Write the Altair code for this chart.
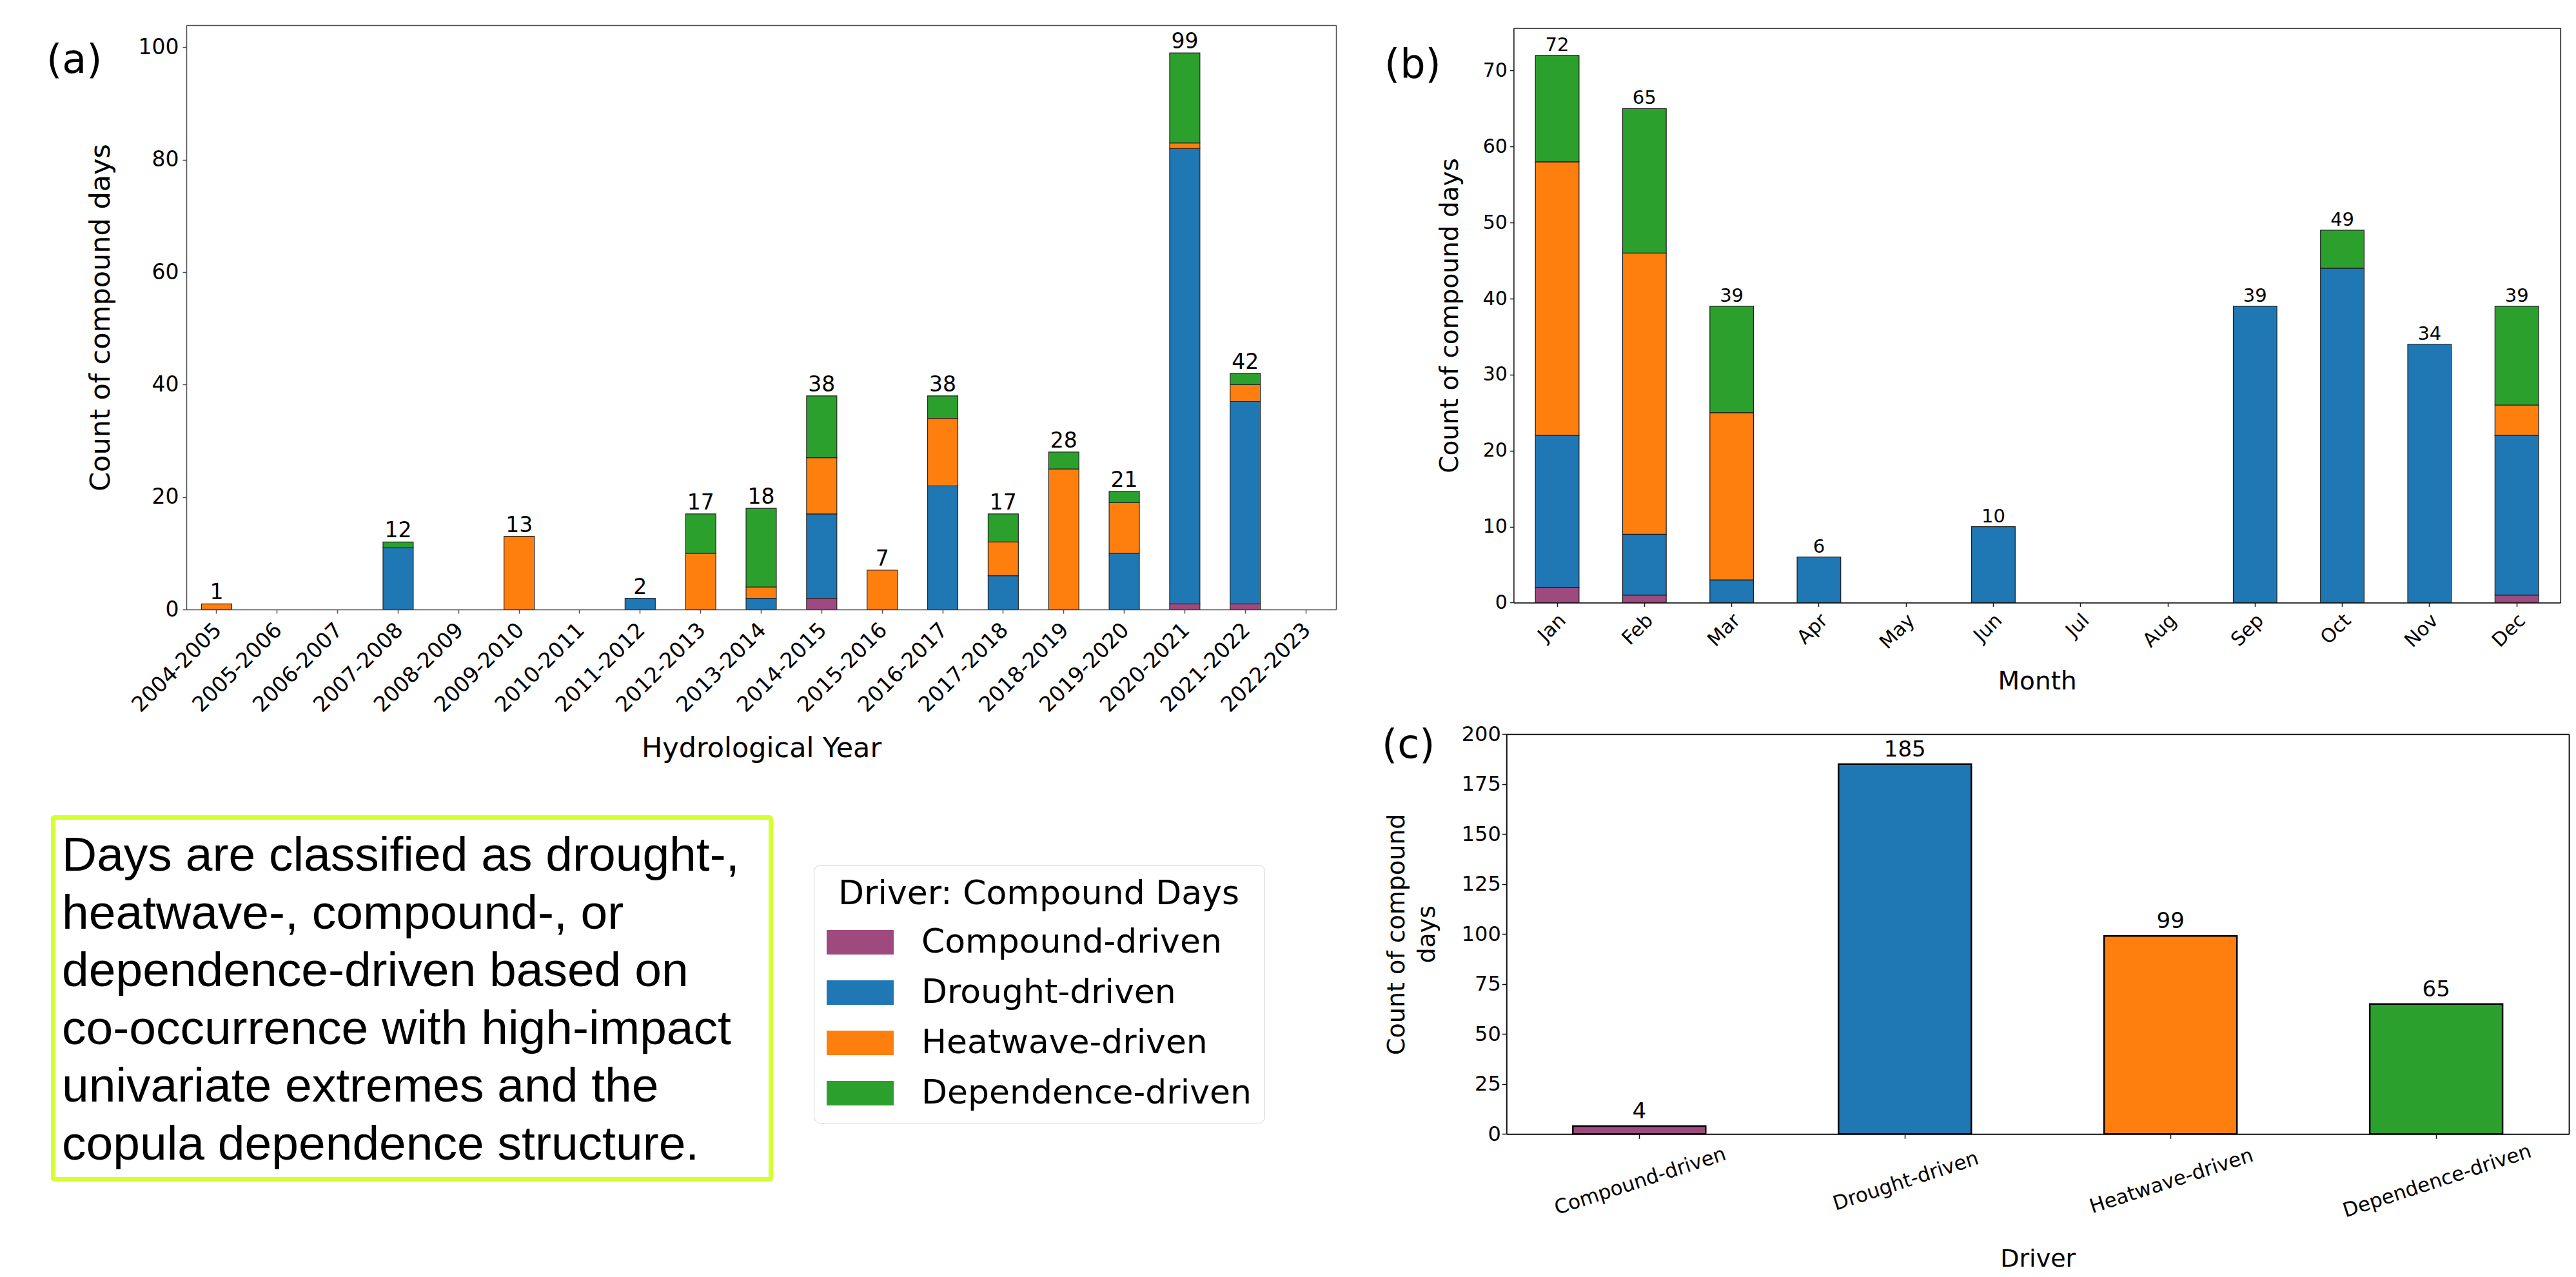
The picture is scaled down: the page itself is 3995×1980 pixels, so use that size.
import altair as alt
import pandas as pd

# ---------------- data ----------------
drivers = ["Compound-driven", "Drought-driven", "Heatwave-driven", "Dependence-driven"]
driver_colors = ["#9e4a7e", "#1f77b4", "#ff7f0e", "#2ca02c"]

years = ["2004-2005", "2005-2006", "2006-2007", "2007-2008", "2008-2009", "2009-2010",
         "2010-2011", "2011-2012", "2012-2013", "2013-2014", "2014-2015", "2015-2016",
         "2016-2017", "2017-2018", "2018-2019", "2019-2020", "2020-2021", "2021-2022",
         "2022-2023"]
year_compound = [0, 0, 0, 0, 0, 0, 0, 0, 0, 0, 2, 0, 0, 0, 0, 0, 1, 1, 0]
year_drought = [0, 0, 0, 11, 0, 0, 0, 2, 0, 2, 15, 0, 22, 6, 0, 10, 81, 36, 0]
year_heatwave = [1, 0, 0, 0, 0, 13, 0, 0, 10, 2, 10, 7, 12, 6, 25, 9, 1, 3, 0]
year_dependence = [0, 0, 0, 1, 0, 0, 0, 0, 7, 14, 11, 0, 4, 5, 3, 2, 16, 2, 0]

months = ["Jan", "Feb", "Mar", "Apr", "May", "Jun", "Jul", "Aug", "Sep", "Oct", "Nov", "Dec"]
month_compound = [2, 1, 0, 0, 0, 0, 0, 0, 0, 0, 0, 1]
month_drought = [20, 8, 3, 6, 0, 10, 0, 0, 39, 44, 34, 21]
month_heatwave = [36, 37, 22, 0, 0, 0, 0, 0, 0, 0, 0, 4]
month_dependence = [14, 19, 14, 0, 0, 0, 0, 0, 0, 5, 0, 13]

driver_totals = [4, 185, 99, 65]

year_ticks = [0, 20, 40, 60, 80, 100]
month_ticks = [0, 10, 20, 30, 40, 50, 60, 70]
driver_ticks = [0, 25, 50, 75, 100, 125, 150, 175, 200]

note_lines = [
    "Days are classified as drought-,",
    "heatwave-, compound-, or",
    "dependence-driven based on",
    "co-occurrence with high-impact",
    "univariate extremes and the",
    "copula dependence structure.",
]
legend_title = "Driver: Compound Days"
panel_labels = ["(a)", "(b)", "(c)"]

# ---------------- helpers ----------------
W, H = 3979, 1964
FONT = "DejaVu Sans"


def stacked(cats, series, key):
    rows = []
    for ci, c in enumerate(cats):
        for di, d in enumerate(drivers):
            v = series[di][ci]
            if v > 0:
                rows.append({key: c, "driver": d, "count": v, "rank": di})
    return pd.DataFrame(rows)


def totals(cats, series, key):
    rows = []
    for ci, c in enumerate(cats):
        t = sum(s[ci] for s in series)
        if t > 0:
            rows.append({key: c, "total": t})
    return pd.DataFrame(rows)


color_scale = alt.Scale(domain=drivers, range=driver_colors)

legend = alt.Legend(
    orient="none", legendX=1254, legendY=1333,
    title=legend_title, titleFont=FONT, titleFontSize=52, titleFontWeight="normal",
    titleColor="black", titleAnchor="middle", titlePadding=22, titleLimit=3000,
    labelFont=FONT, labelFontSize=52, labelColor="black", labelLimit=3000,
    labelOffset=95, symbolType="M-1,-0.73H3V0.73H-1Z", symbolSize=2704,
    symbolStrokeWidth=0, symbolOpacity=1, rowPadding=26, padding=20,
    strokeColor="#d4d4d4", cornerRadius=10, fillColor="white",
)


def frame_axes(style, top, right):
    xa = alt.Axis(orient="top", offset=-top, labels=False, ticks=False, title=None, **style)
    ya = alt.Axis(orient="right", offset=right - W, labels=False, ticks=False, title=None, **style)
    return xa, ya


# ---------------- panel (a) ----------------
a_x = [281, 2064]
a_y = [937, 31]
sty_a = dict(domainColor="#505050", tickColor="#505050", domainWidth=1.5, tickWidth=1.5, zindex=1)
a_xs = alt.Scale(domain=years, range=a_x, paddingInner=0.5, paddingOuter=0.25)
a_ys = alt.Scale(domain=[0, 103.95], range=a_y, nice=False)
series_a = [year_compound, year_drought, year_heatwave, year_dependence]

a_bars = alt.Chart(stacked(years, series_a, "year")).mark_bar(
    stroke="#262626", strokeWidth=1.2
).encode(
    x=alt.X("year:N", sort=years, scale=a_xs, axis=alt.Axis(
        orient="bottom", offset=a_y[0] - H, title="Hydrological Year",
        labelAngle=315, labelAlign="right", labelBaseline="top", labelFontSize=33,
        labelPadding=9, labelOffset=-9, labelLimit=1000, labelOverlap=False, tickSize=6,
        titleFontSize=43, titleY=228, titleBaseline="alphabetic", **sty_a)),
    y=alt.Y("count:Q", stack="zero", scale=a_ys, axis=alt.Axis(
        orient="left", offset=-a_x[0], values=year_ticks, labelFontSize=33,
        labelPadding=6, tickSize=6, title="Count of compound days", titleFontSize=43,
        titleX=-111, titleBaseline="bottom", **sty_a)),
    color=alt.Color("driver:N", scale=color_scale, legend=legend),
    order=alt.Order("rank:Q", sort="ascending"),
)
fx, fy = frame_axes(sty_a, a_y[1], a_x[1])
a_text = alt.Chart(totals(years, series_a, "year")).mark_text(
    font=FONT, fontSize=33, baseline="alphabetic", dy=-7, color="black"
).encode(
    x=alt.X("year:N", sort=years, scale=a_xs, axis=fx),
    y=alt.Y("total:Q", scale=a_ys, axis=fy),
    text="total:Q",
)
panel_a = alt.layer(a_bars, a_text)

# ---------------- panel (b) ----------------
b_x = [2339.4, 3962.8]
b_y = [926.4, 35.5]
sty_b = dict(domainColor="#1a1a1a", tickColor="#1a1a1a", domainWidth=1.6, tickWidth=1.5, zindex=1)
b_xs = alt.Scale(domain=months, range=b_x, paddingInner=0.5, paddingOuter=0.25)
b_ys = alt.Scale(domain=[0, 75.6], range=b_y, nice=False)
series_b = [month_compound, month_drought, month_heatwave, month_dependence]

b_bars = alt.Chart(stacked(months, series_b, "month")).mark_bar(
    stroke="#1a1a1a", strokeWidth=1.2
).encode(
    x=alt.X("month:N", sort=months, scale=b_xs, axis=alt.Axis(
        orient="bottom", offset=b_y[0] - H, title="Month",
        labelAngle=315, labelAlign="right", labelBaseline="top", labelFontSize=30,
        labelPadding=6, labelOffset=-2, labelLimit=1000, labelOverlap=False, tickSize=6,
        titleFontSize=39, titleY=134, titleBaseline="alphabetic", **sty_b)),
    y=alt.Y("count:Q", stack="zero", scale=b_ys, axis=alt.Axis(
        orient="left", offset=-b_x[0], values=month_ticks, labelFontSize=30,
        labelPadding=4, tickSize=6, title="Count of compound days", titleFontSize=39,
        titleX=-79, titleBaseline="bottom", **sty_b)),
    color=alt.Color("driver:N", scale=color_scale, legend=None),
    order=alt.Order("rank:Q", sort="ascending"),
)
fx, fy = frame_axes(sty_b, b_y[1], b_x[1])
b_text = alt.Chart(totals(months, series_b, "month")).mark_text(
    font=FONT, fontSize=29, baseline="alphabetic", dy=-7, color="black"
).encode(
    x=alt.X("month:N", sort=months, scale=b_xs, axis=fx),
    y=alt.Y("total:Q", scale=b_ys, axis=fy),
    text="total:Q",
)
panel_b = alt.layer(b_bars, b_text)

# ---------------- panel (c) ----------------
c_x = [2328.3, 3976.1]
c_y = [1750.3, 1130.2]
sty_c = dict(domainColor="#111111", tickColor="#111111", domainWidth=2, tickWidth=1.5, zindex=1)
c_xs = alt.Scale(domain=drivers, range=c_x, paddingInner=0.5, paddingOuter=0.25)
c_ys = alt.Scale(domain=[0, 200], range=c_y, nice=False)
df_c = pd.DataFrame({"driver": drivers, "total": driver_totals})

c_bars = alt.Chart(df_c).mark_bar(stroke="black", strokeWidth=2.5).encode(
    x=alt.X("driver:N", sort=drivers, scale=c_xs, axis=alt.Axis(
        orient="bottom", offset=c_y[0] - H, title="Driver",
        labelAngle=342, labelAlign="center", labelBaseline="top", labelFontSize=31,
        labelPadding=52, labelOffset=-3, labelLimit=1000, labelOverlap=False, tickSize=7,
        titleFontSize=38, titleY=205, titleBaseline="alphabetic", **sty_c)),
    y=alt.Y("total:Q", scale=c_ys, axis=alt.Axis(
        orient="left", offset=-c_x[0], values=driver_ticks, labelFontSize=32,
        labelPadding=2, tickSize=7, title=["Count of compound", "days"], titleFontSize=38,
        titleLineHeight=47, titleX=-151, titleBaseline="bottom", **sty_c)),
    color=alt.Color("driver:N", scale=color_scale, legend=None),
)
fx, fy = frame_axes(sty_c, c_y[1], c_x[1])
c_text = alt.Chart(df_c).mark_text(
    font=FONT, fontSize=34, baseline="alphabetic", dy=-12, color="black"
).encode(
    x=alt.X("driver:N", sort=drivers, scale=c_xs, axis=fx),
    y=alt.Y("total:Q", scale=c_ys, axis=fy),
    text="total:Q",
)
panel_c = alt.layer(c_bars, c_text)

# ---------------- annotations ----------------
one = pd.DataFrame({"k": [0]})
note_box = alt.Chart(one).mark_rect(
    fill="white", stroke="#d4ff32", strokeWidth=7, cornerRadius=2
).encode(x=alt.value(74.5), x2=alt.value(1187.5), y=alt.value(1259.5), y2=alt.value(1820.5))

note_text = [
    alt.Chart(one).mark_text(
        text=line, font="Liberation Sans", fontSize=75,
        align="left", baseline="alphabetic", color="black"
    ).encode(x=alt.value(88), y=alt.value(1342 + 89.6 * i))
    for i, line in enumerate(note_lines)
]

label_pos = [(64, 105), (2139, 112), (2135, 1167)]
labels = [
    alt.Chart(one).mark_text(text=t, font=FONT, fontSize=62, align="left",
                             baseline="alphabetic", color="black")
    .encode(x=alt.value(px), y=alt.value(py))
    for t, (px, py) in zip(panel_labels, label_pos)
]

chart = alt.layer(panel_a, panel_b, panel_c, note_box, *note_text, *labels).resolve_scale(
    x="independent", y="independent", color="shared"
).properties(
    width=W, height=H, padding=0, autosize=alt.AutoSizeParams(type="none"),
    background="white"
).configure_view(stroke=None).configure_axis(
    grid=False, labelFont=FONT, titleFont=FONT, labelColor="black",
    titleColor="black", titleFontWeight="normal"
)

chart.save("out.html", embed_options={"renderer": "svg", "actions": False})
